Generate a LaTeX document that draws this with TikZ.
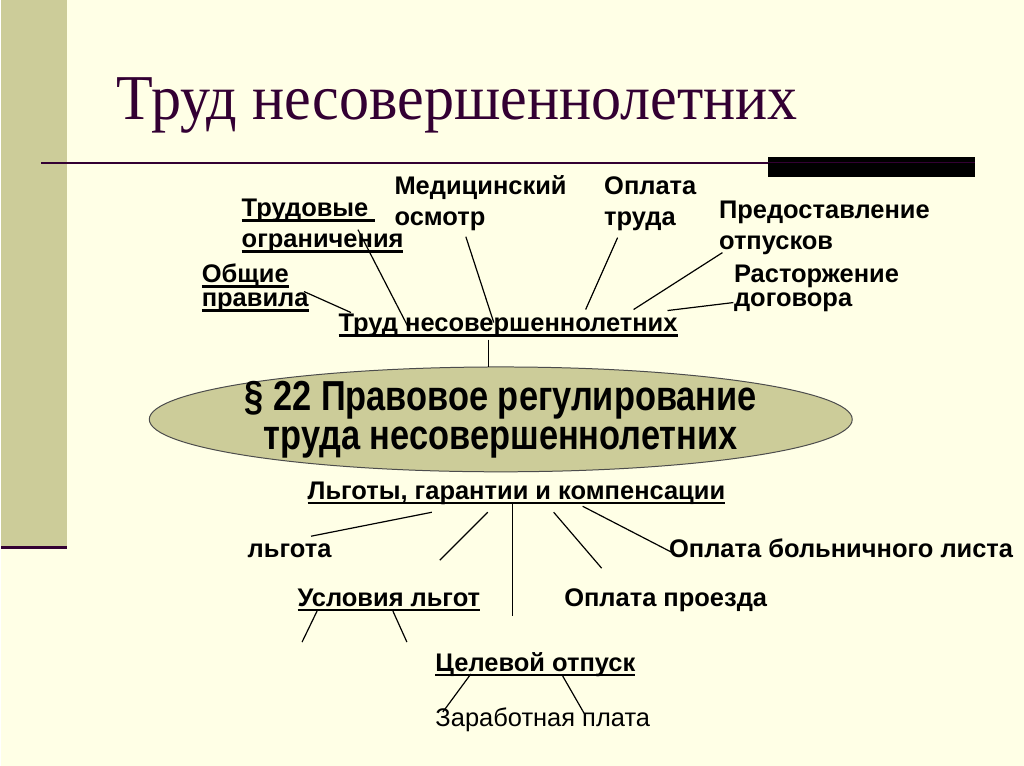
\documentclass[tikz,border=0pt]{standalone}
\usepackage{fontspec}
\usetikzlibrary{shapes.geometric}
\setmainfont{Liberation Serif}
\setsansfont{Liberation Sans}
\newfontfamily\narrowfont[FakeStretch=0.82]{Liberation Sans}
\newfontfamily\titlefont[FakeStretch=0.94]{Liberation Serif}
\definecolor{slidebg}{RGB}{255,255,230}
\definecolor{bandcol}{RGB}{204,204,153}
\definecolor{plum}{RGB}{51,0,51}
\newsavebox\ulsave
\newcommand\ulword[1]{\sbox\ulsave{#1}\rlap{\rule[-5pt]{\wd\ulsave}{2.5pt}}\usebox\ulsave}

\begin{document}
\begin{tikzpicture}[x=1pt,y=-1pt,line width=1.2pt,
    lbl/.style={font=\sffamily\bfseries\fontsize{25.5}{31}\selectfont,align=left,inner sep=0pt,anchor=base west},
    tight/.style={font=\sffamily\bfseries\fontsize{25.5}{24}\selectfont},
    oval/.style={ellipse,draw=gray!60!black,fill=bandcol,line width=1pt,minimum width=704,minimum height=105,inner sep=0pt},
    ovaltext/.style={align=center,inner sep=0pt,font=\narrowfont\bfseries\fontsize{42}{39}\selectfont}]
            % slide background
            \fill[slidebg] (0,0) rectangle (1024,767);
            \fill[bandcol] (0,0) rectangle (66,548);
            \draw[plum,line width=3pt] (0,548) -- (66,548);
            \draw[plum,line width=1.5pt] (40,163) -- (975,163);
            \fill[black] (768,157) rectangle (975,177);
            \draw[plum,line width=1pt] (768,163) -- (975,163);
            \node[anchor=base west,inner sep=0pt,text=plum,font=\titlefont\fontsize{64}{64}\selectfont] (0) at (115,120) {Труд несовершеннолетних};

            % upper branch
            \node[lbl] (11) at (337,332) {\ulword{Труд несовершеннолетних}};
            \node[lbl] (12) at (393,226) {Медицинский\\осмотр};
            \node[lbl] (13) at (603,226) {Оплата\\труда};
            \node[lbl] (14) at (718,250) {Предоставление\\отпусков};
            \node[lbl,tight] (15) at (733,307) {Расторжение\\договора};
            \node[lbl] (16) at (240,248) {\ulword{Трудовые\ }\\\ulword{ограничения}};
            \node[lbl,tight] (17) at (200,307) {\ulword{Общие}\\\ulword{правила}};

            \node[oval] (30) at (500,420) {};
            \node[ovaltext] (31) at (30.center) {§ 22 Правовое регулирование\\труда несовершеннолетних};

            % lower branch
            \node[lbl] (20) at (306,500) {\ulword{Льготы, гарантии и компенсации}};
            \node[lbl] (21) at (246,558) {льгота};
            \node[lbl] (22) at (668,558) {Оплата больничного листа};
            \node[lbl] (23) at (296,607) {\ulword{Условия льгот}};
            \node[lbl] (24) at (563,607) {Оплата проезда};
            \node[lbl] (25) at (434,672) {\ulword{Целевой отпуск}};
            \node[lbl,font=\sffamily\fontsize{25.5}{31}\selectfont] (26) at (434,728) {Заработная плата};

            % line ends
            \coordinate (16a) at (357,230); \coordinate (16b) at (407,327);
            \coordinate (12a) at (465,237); \coordinate (12b) at (493,323);
            \coordinate (17a) at (303,292); \coordinate (17b) at (350,313);
            \coordinate (13a) at (617,238); \coordinate (13b) at (585,310);
            \coordinate (14a) at (722,253); \coordinate (14b) at (633,310);
            \coordinate (15a) at (733,303); \coordinate (15b) at (667,311);
            \coordinate (11a) at (488,340); \coordinate (30a) at (488,368);
            \coordinate (21a) at (431,513); \coordinate (21b) at (310,537);
            \coordinate (20a) at (487,513); \coordinate (20b) at (439,561);
            \coordinate (20c) at (512,505); \coordinate (20d) at (512,617);
            \coordinate (24a) at (553,513); \coordinate (24b) at (601,569);
            \coordinate (22a) at (582,507); \coordinate (22b) at (671,553);
            \coordinate (23a) at (316,612); \coordinate (23b) at (301,643);
            \coordinate (23c) at (392,612); \coordinate (23d) at (406,643);
            \coordinate (25a) at (470,675); \coordinate (25b) at (442,713);
            \coordinate (25c) at (562,677); \coordinate (25d) at (585,717);

            \path[draw]
                (16a) edge (16b)
                (12a) edge (12b)
                (17a) edge (17b)
                (13a) edge (13b)
                (14a) edge (14b)
                (15a) edge (15b)
                (11a) edge (30a)

                (21a) edge (21b)
                (20a) edge (20b)
                (20c) edge (20d)
                (24a) edge (24b)
                (22a) edge (22b)
                (23a) edge (23b)
                (23c) edge (23d)
                (25a) edge (25b)
                (25c) edge (25d)
            ;
\end{tikzpicture}
\end{document}
